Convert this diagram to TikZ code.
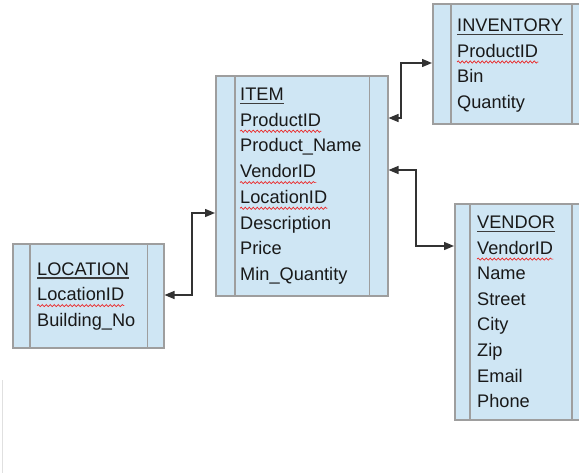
\documentclass[tikz,border=0pt]{standalone}
\usepackage{fontspec}
\setmainfont{Liberation Sans}
\usetikzlibrary{arrows.meta,decorations.pathmorphing}
\definecolor{boxfill}{RGB}{207,230,244}
\definecolor{boxline}{RGB}{158,158,158}
\definecolor{linkcol}{RGB}{50,50,50}
\definecolor{ulcol}{RGB}{60,60,60}
\definecolor{squigcol}{RGB}{235,40,40}
\tikzset{
  entity/.style={draw=boxline, fill=boxfill, line width=1.5pt, anchor=north west, inner sep=0pt},
  divider/.style={draw=boxline, line width=1.3pt},
  field/.style={anchor=base west, inner sep=0pt, font=\fontsize{18.2}{20}\selectfont, text=black!90},
  titleline/.style={draw=ulcol, line width=1.8pt},
  squig/.style={draw=squigcol, line width=0.7pt, decorate, decoration={snake, amplitude=1.1pt, segment length=4pt}},
  link/.style={draw=linkcol, line width=1.4pt, {Triangle[length=10pt,width=8pt]}-{Triangle[length=10pt,width=8pt]}}
}
\begin{document}
\begin{tikzpicture}[x=1pt,y=-1pt]
\useasboundingbox (0,0) rectangle (579,474);
\clip (0,0) rectangle (579,474);
\fill[white] (0,0) rectangle (579,474);
% faint line at lower left
\draw[draw=black!12, line width=1pt] (2.5,380) -- (2.5,473);

% ITEM
\node[entity, minimum width=172pt, minimum height=220pt] (item) at (215,75) {};
\draw[divider] ([xshift=20pt]item.north west) -- ([xshift=20pt]item.south west);
\draw[divider] ([xshift=-19pt]item.north east) -- ([xshift=-19pt]item.south east);
\node[field] (itemT) at (240,100.5) {ITEM};
\node[field] (item1) at (240,126.2) {ProductID};
\node[field] (item2) at (240,151.9) {Product\_Name};
\node[field] (item3) at (240,177.6) {VendorID};
\node[field] (item4) at (240,203.3) {LocationID};
\node[field] (item5) at (240,229.0) {Description};
\node[field] (item6) at (240,254.7) {Price};
\node[field] (item7) at (240,280.4) {Min\_Quantity};

% INVENTORY
\node[entity, minimum width=160pt, minimum height=120pt] (inv) at (432,3) {};
\draw[divider] ([xshift=19pt]inv.north west) -- ([xshift=19pt]inv.south west);
\draw[divider] (572,3) -- (572,123);
\node[field] (invT) at (457,31.5) {INVENTORY};
\node[field] (inv1) at (457,57) {ProductID};
\node[field] (inv2) at (457,82.5) {Bin};
\node[field] (inv3) at (457,108) {Quantity};

% LOCATION
\node[entity, minimum width=151pt, minimum height=104pt] (loc) at (12,243) {};
\draw[divider] ([xshift=18pt]loc.north west) -- ([xshift=18pt]loc.south west);
\draw[divider] ([xshift=-17pt]loc.north east) -- ([xshift=-17pt]loc.south east);
\node[field] (locT) at (37,275) {LOCATION};
\node[field] (loc1) at (37,300.6) {LocationID};
\node[field] (loc2) at (37,326.2) {Building\_No};

% VENDOR
\node[entity, minimum width=136pt, minimum height=216pt] (ven) at (454,203) {};
\draw[divider] ([xshift=16pt]ven.north west) -- ([xshift=16pt]ven.south west);
\draw[divider] (572,203) -- (572,419);
\node[field] (venT) at (477,228.5) {VENDOR};
\node[field] (ven1) at (477,254.1) {VendorID};
\node[field] (ven2) at (477,279.7) {Name};
\node[field] (ven3) at (477,305.3) {Street};
\node[field] (ven4) at (477,330.9) {City};
\node[field] (ven5) at (477,356.5) {Zip};
\node[field] (ven6) at (477,382.1) {Email};
\node[field] (ven7) at (477,407.7) {Phone};

% title underlines
\foreach \t in {itemT,invT,locT,venT}{
  \draw[titleline] ([yshift=-3pt]\t.base west) -- ([yshift=-3pt]\t.base east);
}
% spell-check squiggles
\foreach \t in {item1,item3,item4,inv1,loc1,ven1}{
  \draw[squig] ([yshift=-5pt]\t.base west) -- ([yshift=-5pt]\t.base east);
}

% connectors
\coordinate (b1) at (401,63);
\coordinate (b2) at (416,246);
\coordinate (b3) at (192,213);
\draw[link] (item.east |- 0,118) -| (b1) -- (inv.west |- b1);
\draw[link] (item.east |- 0,170) -| (b2) -- (ven.west |- b2);
\draw[link] (item.west |- b3) -- (b3) |- (loc.east |- 0,295);
\end{tikzpicture}
\end{document}
